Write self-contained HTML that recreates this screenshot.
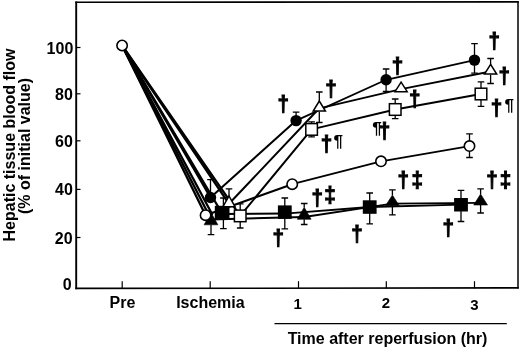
<!DOCTYPE html>
<html><head><meta charset="utf-8"><title>Hepatic tissue blood flow</title>
<style>
html,body{margin:0;padding:0;background:#fff;}
svg{display:block;will-change:transform;}
text{font-family:"Liberation Sans","DejaVu Sans",sans-serif;font-weight:bold;fill:#000;}
</style></head><body>
<svg width="520" height="348" viewBox="0 0 520 348">
<rect x="0" y="0" width="520" height="348" fill="#fff"/>

<g stroke="#000" fill="none" stroke-linecap="butt">
<line x1="76.2" y1="1.5" x2="76.2" y2="289.2" stroke-width="1.9"/>
<line x1="75.3" y1="288.4" x2="518.8" y2="287.9" stroke-width="1.6"/>
<line x1="75.3" y1="2.3" x2="518.8" y2="1.9" stroke-width="1.6"/>
<line x1="518.0" y1="1.4" x2="518.0" y2="288.6" stroke-width="1.5"/>
<line x1="76.2" y1="47.5" x2="80.5" y2="47.5" stroke-width="1.2"/>
<line x1="76.2" y1="93.8" x2="80.5" y2="93.8" stroke-width="1.2"/>
<line x1="76.2" y1="140.8" x2="80.5" y2="140.8" stroke-width="1.2"/>
<line x1="76.2" y1="189.4" x2="80.5" y2="189.4" stroke-width="1.2"/>
<line x1="76.2" y1="237.5" x2="80.5" y2="237.5" stroke-width="1.2"/>
<line x1="122.2" y1="281.2" x2="122.2" y2="288.4" stroke-width="1.2"/>
<line x1="210.2" y1="281.2" x2="210.2" y2="288.4" stroke-width="1.2"/>
<line x1="298.5" y1="281.2" x2="298.5" y2="288.4" stroke-width="1.2"/>
<line x1="386.3" y1="281.2" x2="386.3" y2="288.4" stroke-width="1.2"/>
<line x1="474.5" y1="281.2" x2="474.5" y2="288.4" stroke-width="1.2"/>
<line x1="274.5" y1="323.7" x2="506.8" y2="323.7" stroke-width="1.3"/>
</g>
<text x="73.3" y="54" font-size="16" text-anchor="end">100</text>
<text x="72.8" y="100" font-size="16" text-anchor="end">80</text>
<text x="72.8" y="147" font-size="16" text-anchor="end">60</text>
<text x="72.8" y="195" font-size="16" text-anchor="end">40</text>
<text x="72.6" y="244" font-size="16" text-anchor="end">20</text>
<text x="71.6" y="290" font-size="16" text-anchor="end">0</text>
<text x="122.5" y="307.6" font-size="16" text-anchor="middle">Pre</text>
<text x="210.4" y="307.6" font-size="16" text-anchor="middle">Ischemia</text>
<text x="297.6" y="309.0" font-size="15" text-anchor="middle">1</text>
<text x="386.0" y="308.0" font-size="15" text-anchor="middle">2</text>
<text x="474.4" y="309.5" font-size="15" text-anchor="middle">3</text>
<text x="387.5" y="343.8" font-size="16" text-anchor="middle">Time after reperfusion (hr)</text>
<text transform="translate(14.5,145) rotate(-90)" font-size="16" text-anchor="middle">Hepatic tissue blood flow</text>
<text transform="translate(29.6,146) rotate(-90)" font-size="16" text-anchor="middle">(% of initial value)</text>
<g stroke="#000" fill="none" stroke-linecap="round">
<line x1="122.1" y1="45.5" x2="205.6" y2="215.2" stroke-width="2.3"/><line x1="205.6" y1="215.2" x2="292.2" y2="184.2" stroke-width="2.0"/><line x1="292.2" y1="184.2" x2="381.0" y2="161.3" stroke-width="1.8"/><line x1="381.0" y1="161.3" x2="469.5" y2="146.1" stroke-width="1.8"/>
<line x1="122.1" y1="45.5" x2="210.5" y2="197.5" stroke-width="2.3"/><line x1="210.5" y1="197.5" x2="296.1" y2="120.6" stroke-width="2.0"/><line x1="296.1" y1="120.6" x2="386.1" y2="79.8" stroke-width="1.8"/><line x1="386.1" y1="79.8" x2="474.5" y2="60.1" stroke-width="1.8"/>
<line x1="122.1" y1="45.5" x2="229.0" y2="203.8" stroke-width="2.3"/><line x1="229.0" y1="203.8" x2="319.3" y2="108.3" stroke-width="2.0"/><line x1="319.3" y1="108.3" x2="401.1" y2="89.1" stroke-width="1.8"/><line x1="401.1" y1="89.1" x2="490.6" y2="71.5" stroke-width="1.8"/>
<line x1="122.1" y1="45.5" x2="240.2" y2="215.9" stroke-width="2.3"/><line x1="240.2" y1="215.9" x2="311.6" y2="129.4" stroke-width="2.0"/><line x1="311.6" y1="129.4" x2="395.2" y2="109.5" stroke-width="1.8"/><line x1="395.2" y1="109.5" x2="481.0" y2="94.0" stroke-width="1.8"/>
<line x1="122.1" y1="45.5" x2="222.5" y2="214.0" stroke-width="2.3"/><line x1="222.5" y1="214.0" x2="284.8" y2="213.6" stroke-width="2.0"/><line x1="284.8" y1="213.6" x2="369.7" y2="207.0" stroke-width="1.8"/><line x1="369.7" y1="207.0" x2="461.0" y2="204.7" stroke-width="1.8"/>
<line x1="122.1" y1="45.5" x2="212.0" y2="214.0" stroke-width="2.3"/>
<line x1="122.1" y1="45.5" x2="208.6" y2="214.5" stroke-width="2.3"/>
<line x1="211.0" y1="219.5" x2="211.0" y2="219.5" stroke-width="2.3"/><line x1="211.0" y1="219.5" x2="304.2" y2="217.0" stroke-width="2.0"/><line x1="304.2" y1="217.0" x2="392.4" y2="203.6" stroke-width="1.8"/><line x1="392.4" y1="203.6" x2="480.6" y2="202.8" stroke-width="1.8"/>
</g>
<g stroke="#000" stroke-width="1.3" fill="none">



<path d="M469.5 146.1V133.9M466.2 133.9H472.8"/><path d="M469.5 146.1V157.5M466.2 157.5H472.8"/>
<path d="M210.5 197.5V179.6M207.2 179.6H213.8"/>
<path d="M296.1 120.6V112.2M292.8 112.2H299.4"/>
<path d="M386.1 79.8V69.0M382.8 69.0H389.4"/><path d="M386.1 79.8V91.3M382.8 91.3H389.4"/>
<path d="M474.5 60.1V43.7M471.2 43.7H477.8"/><path d="M474.5 60.1V73.2M471.2 73.2H477.8"/>
<path d="M229.0 196.5V188.8M225.7 188.8H232.3"/>
<path d="M319.3 101.5V92.0M316.0 92.0H322.6"/><path d="M319.3 111.7V122.5M316.0 122.5H322.6"/>

<path d="M490.6 64.8V58.5M487.3 58.5H493.9"/><path d="M490.6 74.8V83.5M487.3 83.5H493.9"/>
<path d="M211.0 224.8V234.6M207.7 234.6H214.3"/>
<path d="M304.2 207.2V203.5M300.9 203.5H307.5"/><path d="M304.2 219.3V224.5M300.9 224.5H307.5"/>
<path d="M392.4 195.0V189.8M389.1 189.8H395.7"/><path d="M392.4 205.8V214.8M389.1 214.8H395.7"/>
<path d="M480.6 194.0V188.8M477.3 188.8H483.9"/><path d="M480.6 205.0V213.0M477.3 213.0H483.9"/>
<path d="M240.2 215.9V203.8M236.9 203.8H243.5"/><path d="M240.2 215.9V228.0M236.9 228.0H243.5"/>
<path d="M311.6 129.4V121.9M308.3 121.9H314.9"/><path d="M311.6 129.4V136.9M308.3 136.9H314.9"/>
<path d="M395.2 109.5V99.0M391.9 99.0H398.5"/><path d="M395.2 109.5V118.7M391.9 118.7H398.5"/>
<path d="M481.0 94.0V81.9M477.7 81.9H484.3"/><path d="M481.0 94.0V106.4M477.7 106.4H484.3"/>
<path d="M223.4 212.4V198.0M220.1 198.0H226.7"/><path d="M223.4 212.4V228.6M220.1 228.6H226.7"/>
<path d="M284.8 212.1V198.0M281.5 198.0H288.1"/><path d="M284.8 212.1V228.8M281.5 228.8H288.1"/>
<path d="M369.7 207.0V193.0M366.4 193.0H373.0"/><path d="M369.7 207.0V223.8M366.4 223.8H373.0"/>
<path d="M461.0 204.7V190.4M457.7 190.4H464.3"/><path d="M461.0 204.7V221.5M457.7 221.5H464.3"/>
</g>
<g stroke="#000" stroke-width="1.5">
<polygon points="211.0,212.5 204.1,224.8 217.9,224.8" fill="#000" stroke-width="0.6"/>
<polygon points="304.2,207.2 297.3,219.3 311.1,219.3" fill="#000" stroke-width="0.6"/>
<polygon points="392.4,195.0 385.5,205.8 399.3,205.8" fill="#000" stroke-width="0.6"/>
<polygon points="480.6,194.0 473.7,205.0 487.5,205.0" fill="#000" stroke-width="0.6"/>
<rect x="214.8" y="205.8" width="14.7" height="13.3" fill="#000" stroke="none"/>
<rect x="277.9" y="205.4" width="13.8" height="13.5" fill="#000" stroke="none"/>
<rect x="362.8" y="200.3" width="13.8" height="13.5" fill="#000" stroke="none"/>
<rect x="454.1" y="198.0" width="13.8" height="13.5" fill="#000" stroke="none"/>
<circle cx="210.5" cy="197.5" r="5.7" fill="#000" stroke="none"/>
<circle cx="296.1" cy="120.6" r="5.7" fill="#000" stroke="none"/>
<circle cx="386.1" cy="79.8" r="5.7" fill="#000" stroke="none"/>
<circle cx="474.5" cy="60.1" r="5.7" fill="#000" stroke="none"/>
<polygon points="229.0,196.0 222.9,206.8 235.1,206.8" fill="#fff" stroke-linejoin="miter"/>
<polygon points="319.3,101.0 313.2,111.0 325.4,111.0" fill="#fff" stroke-linejoin="miter"/>
<polygon points="401.1,82.1 395.0,91.7 407.2,91.7" fill="#fff" stroke-linejoin="miter"/>
<polygon points="490.6,64.3 484.5,74.1 496.7,74.1" fill="#fff" stroke-linejoin="miter"/>
<rect x="234.4" y="210.1" width="11.6" height="11.6" fill="#fff"/>
<rect x="305.8" y="123.6" width="11.6" height="11.6" fill="#fff"/>
<rect x="389.4" y="103.7" width="11.6" height="11.6" fill="#fff"/>
<rect x="475.2" y="88.2" width="11.6" height="11.6" fill="#fff"/>
<circle cx="122.1" cy="45.5" r="5.2" fill="#fff" stroke-width="1.6"/>
<circle cx="205.6" cy="215.2" r="5.2" fill="#fff" stroke-width="1.6"/>
<circle cx="292.2" cy="184.2" r="5.2" fill="#fff" stroke-width="1.6"/>
<circle cx="381.0" cy="161.3" r="5.2" fill="#fff" stroke-width="1.6"/>
<circle cx="469.5" cy="146.1" r="5.2" fill="#fff" stroke-width="1.6"/>
</g>
<text transform="translate(283.2,111) scale(0.94,1.03)" x="0" y="0" font-size="22" text-anchor="middle" font-weight="bold" stroke="#000" stroke-width="1.0" stroke-linejoin="miter">†</text>
<text transform="translate(331.1,96) scale(0.94,1.03)" x="0" y="0" font-size="22" text-anchor="middle" font-weight="bold" stroke="#000" stroke-width="1.0" stroke-linejoin="miter">†</text>
<text transform="translate(326.4,151) scale(0.94,1.03)" x="0" y="0" font-size="22" text-anchor="middle" font-weight="bold" stroke="#000" stroke-width="1.0" stroke-linejoin="miter">†</text>
<text transform="translate(397.5,73) scale(0.94,1.03)" x="0" y="0" font-size="22" text-anchor="middle" font-weight="bold" stroke="#000" stroke-width="1.0" stroke-linejoin="miter">†</text>
<text transform="translate(414.8,106) scale(0.94,1.03)" x="0" y="0" font-size="22" text-anchor="middle" font-weight="bold" stroke="#000" stroke-width="1.0" stroke-linejoin="miter">†</text>
<text transform="translate(384.6,138) scale(0.94,1.03)" x="0" y="0" font-size="22" text-anchor="middle" font-weight="bold" stroke="#000" stroke-width="1.0" stroke-linejoin="miter">†</text>
<text transform="translate(494.2,48) scale(0.94,1.03)" x="0" y="0" font-size="22" text-anchor="middle" font-weight="bold" stroke="#000" stroke-width="1.0" stroke-linejoin="miter">†</text>
<text transform="translate(504.3,83) scale(0.94,1.03)" x="0" y="0" font-size="22" text-anchor="middle" font-weight="bold" stroke="#000" stroke-width="1.0" stroke-linejoin="miter">†</text>
<text transform="translate(496.4,115) scale(0.94,1.03)" x="0" y="0" font-size="22" text-anchor="middle" font-weight="bold" stroke="#000" stroke-width="1.0" stroke-linejoin="miter">†</text>
<text transform="translate(317.2,205) scale(0.94,1.03)" x="0" y="0" font-size="22" text-anchor="middle" font-weight="bold" stroke="#000" stroke-width="1.0" stroke-linejoin="miter">†</text>
<text transform="translate(278.2,245) scale(0.94,1.03)" x="0" y="0" font-size="22" text-anchor="middle" font-weight="bold" stroke="#000" stroke-width="1.0" stroke-linejoin="miter">†</text>
<text transform="translate(403.3,187) scale(0.94,1.03)" x="0" y="0" font-size="22" text-anchor="middle" font-weight="bold" stroke="#000" stroke-width="1.0" stroke-linejoin="miter">†</text>
<text transform="translate(356.9,241) scale(0.94,1.03)" x="0" y="0" font-size="22" text-anchor="middle" font-weight="bold" stroke="#000" stroke-width="1.0" stroke-linejoin="miter">†</text>
<text transform="translate(492.1,187) scale(0.94,1.03)" x="0" y="0" font-size="22" text-anchor="middle" font-weight="bold" stroke="#000" stroke-width="1.0" stroke-linejoin="miter">†</text>
<text transform="translate(448.2,235) scale(0.94,1.03)" x="0" y="0" font-size="22" text-anchor="middle" font-weight="bold" stroke="#000" stroke-width="1.0" stroke-linejoin="miter">†</text>
<text transform="translate(330.1,202) scale(0.94,1.03)" x="0" y="0" font-size="22" text-anchor="middle" font-weight="bold" stroke="#000" stroke-width="1.0" stroke-linejoin="miter">‡</text>
<text transform="translate(417.2,187) scale(0.94,1.03)" x="0" y="0" font-size="22" text-anchor="middle" font-weight="bold" stroke="#000" stroke-width="1.0" stroke-linejoin="miter">‡</text>
<text transform="translate(505.4,187) scale(0.94,1.03)" x="0" y="0" font-size="22" text-anchor="middle" font-weight="bold" stroke="#000" stroke-width="1.0" stroke-linejoin="miter">‡</text>
<text x="338.3" y="146.6" font-size="17" text-anchor="middle" font-weight="normal">¶</text>
<text x="376.9" y="134.0" font-size="17" text-anchor="middle" font-weight="normal">¶</text>
<text x="509.3" y="111.1" font-size="17" text-anchor="middle" font-weight="normal">¶</text>
</svg></body></html>
